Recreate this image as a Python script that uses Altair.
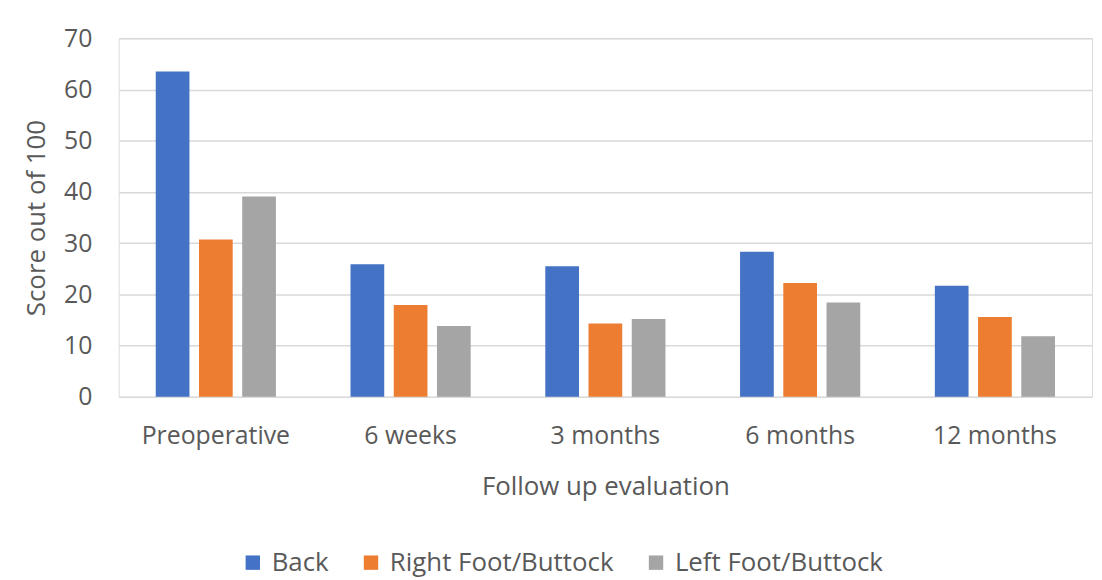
import altair as alt
import pandas as pd

periods = ["Preoperative", "6 weeks", "3 months", "6 months", "12 months"]
series = ["Back", "Right Foot/Buttock", "Left Foot/Buttock"]
back = [63.5, 25.9, 25.5, 28.3, 21.7]
right = [30.7, 17.9, 14.3, 22.2, 15.6]
left = [39.1, 13.8, 15.2, 18.4, 11.8]
colors = ["#4472C4", "#ED7D31", "#A5A5A5"]

rows = []
for i, p in enumerate(periods):
    for s, vals in zip(series, [back, right, left]):
        rows.append({"period": p, "series": s, "value": vals[i]})
df = pd.DataFrame(rows)

FONT = "Open Sans"
TXT = "#595959"

chart = alt.Chart(df).mark_bar().encode(
    x=alt.X("period:N", sort=periods,
            scale=alt.Scale(paddingInner=0.383, paddingOuter=0.19),
            axis=alt.Axis(title="Follow up evaluation", labelAngle=0, ticks=False,
                          domain=False, labelPadding=27, titlePadding=25,
                          labelFontSize=25, titleFontSize=26, labelColor=TXT,
                          titleColor=TXT, labelFont=FONT, titleFont=FONT,
                          titleFontWeight="normal")),
    xOffset=alt.XOffset("series:N", sort=series, scale=alt.Scale(paddingInner=0.22)),
    y=alt.Y("value:Q", scale=alt.Scale(domain=[0, 70], nice=False),
            axis=alt.Axis(title="Score out of 100", values=[0, 10, 20, 30, 40, 50, 60, 70],
                          ticks=False, domain=False, labelPadding=27, titlePadding=14,
                          gridColor="#D9D9D9", gridWidth=1.5,
                          labelFontSize=25, titleFontSize=26, labelColor=TXT,
                          titleColor=TXT, labelFont=FONT, titleFont=FONT,
                          titleFontWeight="normal")),
    color=alt.Color("series:N", sort=series,
                    scale=alt.Scale(domain=series, range=colors),
                    legend=alt.Legend(title=None, orient="none", direction="horizontal",
                                      legendX=122, legendY=515, columns=3,
                                      symbolType="square", symbolSize=210,
                                      symbolStrokeWidth=0, columnPadding=29,
                                      labelFontSize=26, labelColor=TXT, labelFont=FONT,
                                      labelLimit=400, labelOffset=6)),
).properties(
    width=980, height=361,
    autosize=alt.AutoSizeParams(type="none"),
    padding={"left": 111.5, "top": 28.5, "right": 2, "bottom": 184},
).configure_view(stroke=None).configure(background="white")

chart.save("out.html", embed_options={"renderer": "svg", "actions": False})
